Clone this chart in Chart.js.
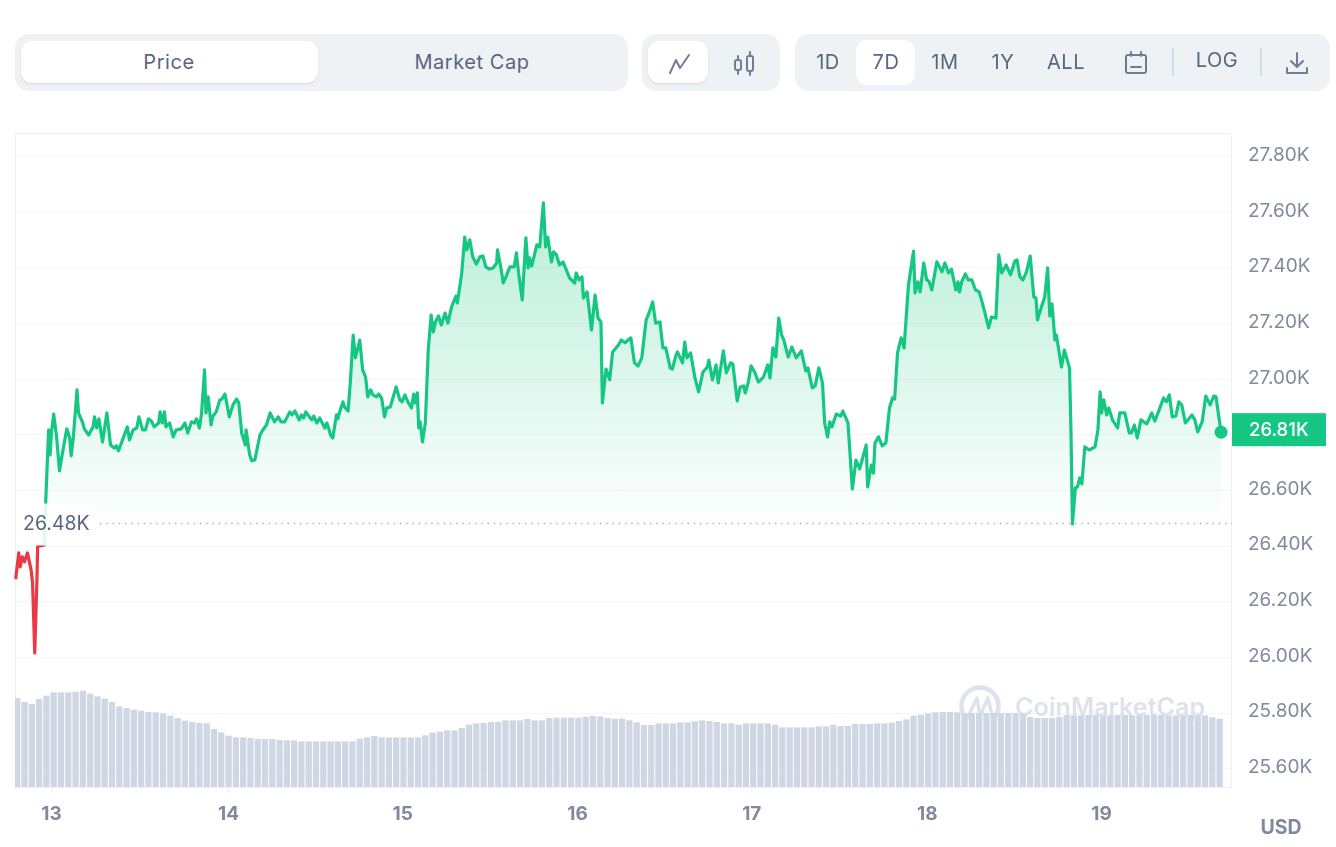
<!DOCTYPE html>
<html>
<head>
<meta charset="utf-8">
<title>Price chart</title>
<script src="https://cdn.jsdelivr.net/npm/chart.js@4"></script>
<style>
  html, body { margin: 0; padding: 0; background: #fff; }
  body { width: 1336px; height: 847px; position: relative; overflow: hidden; font-family: Inter, sans-serif; color: #58667e; }
  #myChart { position: absolute; left: 0; top: 0; }
  .box { position: absolute; top: 34px; height: 57px; background: #eff2f5; border-radius: 14px; }
  .on { position: absolute; background: #fff; border-radius: 11px; box-shadow: 0 1px 2px rgba(88, 102, 126, .18); }
  .txt { position: absolute; transform: translate(-50%, -50%); font-size: 20px; white-space: nowrap; letter-spacing: .55px; }
  .sep { position: absolute; top: 48px; width: 2px; height: 28px; background: #d5dbe6; }
  svg { position: absolute; fill: none; stroke: #6f7d96; stroke-width: 2; stroke-linecap: round; stroke-linejoin: round; }
</style>
</head>
<body>
<canvas id="myChart" width="1336" height="847"></canvas>

<div class="box" style="left:15px;width:613px"></div>
<div class="on" style="left:21px;top:41px;width:297px;height:42px"></div>
<div class="txt" style="left:169px;top:62px">Price</div>
<div class="txt" style="left:472px;top:62px">Market Cap</div>

<div class="box" style="left:642px;width:138px"></div>
<div class="on" style="left:648px;top:41px;width:60px;height:42px"></div>
<svg style="left:665px;top:50px" width="30" height="28" viewBox="0 0 30 28"><path d="M5 23 L11 10 L15 18 L24 5"/></svg>
<svg style="left:730px;top:49px" width="30" height="30" viewBox="0 0 30 30"><rect x="5" y="11" width="6" height="10" rx="2"/><rect x="17" y="7" width="6" height="15" rx="2"/><path d="M8 7 V11 M8 21 V25 M20 3 V7 M20 22 V26"/></svg>

<div class="box" style="left:795px;width:535px"></div>
<div class="on" style="left:856px;top:40px;width:59px;height:45px;box-shadow:none"></div>
<div class="txt" style="left:828px;top:62px">1D</div>
<div class="txt" style="left:886px;top:62px">7D</div>
<div class="txt" style="left:945px;top:62px">1M</div>
<div class="txt" style="left:1003px;top:62px">1Y</div>
<div class="txt" style="left:1066px;top:62px">ALL</div>
<svg style="left:1122px;top:49px" width="28" height="28" viewBox="0 0 28 28"><rect x="4" y="6" width="20" height="18" rx="2"/><path d="M9 3 V7 M19 3 V7 M9 18 H19"/></svg>
<div class="sep" style="left:1172px"></div>
<div class="txt" style="left:1217px;top:60px">LOG</div>
<div class="sep" style="left:1260px"></div>
<svg style="left:1283px;top:49px" width="28" height="28" viewBox="0 0 28 28"><path d="M14 4 V18 M8 12 L14 18 L20 12 M4 19 V24 H24 V19"/></svg>

<script>
// hours since the start of the 13th
const priceHours = [
  -4.9,-4.5,-4.3,-4.0,-3.7,-3.3,-2.8,-2.6,-2.3,-2.0,-1.9,-1.6,-1.0,
  -0.8,-0.4,-0.2,0,0.3,0.7,1.1,1.5,2.1,2.5,2.7,3.0,3.5,3.7,4.3,4.5,5.1,5.7,5.9,6.2,6.5,7.0,7.6,8.1,8.6,8.9,9.2,9.9,
  10.4,10.7,11.2,11.7,12.0,12.5,12.9,13.3,13.7,14.1,14.7,14.9,15.2,15.5,15.7,16.2,16.7,17.1,17.8,18.3,18.7,19.2,19.6,19.9,
  20.3,20.6,21.0,21.2,21.5,21.9,22.1,22.6,23.1,23.4,23.8,24.4,24.9,25.4,25.7,26.1,26.6,26.7,27.2,27.5,27.9,28.6,29.0,29.5,
  30.0,30.6,31.1,31.5,32.0,32.7,33.0,33.4,34.0,34.3,34.6,34.9,35.7,36.0,36.4,36.8,37.5,37.8,38.3,38.6,39.1,39.3,39.5,
  40.0,40.2,40.7,41.0,41.4,41.7,42.3,42.7,43.1,43.4,43.8,44.1,44.6,44.9,45.3,45.7,46.0,46.5,47.3,47.8,48.1,48.5,48.9,49.4,49.7,49.9,
  50.2,50.4,50.6,50.9,51.3,51.7,52.1,52.4,52.7,53.1,53.5,54.0,54.4,54.9,55.5,55.7,56.3,56.7,57.0,57.4,57.8,58.3,58.8,59.2,59.6,
  60.1,60.6,61.1,61.2,61.6,62.0,62.4,62.9,63.5,63.8,64.1,64.6,65.1,65.4,65.6,65.9,66.6,67.0,67.5,67.8,68.1,68.6,68.9,69.3,69.7,
  70.2,71.1,71.8,72.0,72.4,72.8,73.0,73.5,74.1,74.6,75.0,75.4,75.6,76.1,76.6,77.0,77.8,78.2,78.7,79.5,
  80.0,80.5,81.0,81.6,82.1,82.5,82.9,83.5,83.9,84.3,84.9,85.2,85.7,85.9,86.6,86.9,87.2,87.7,88.3,88.8,89.4,
  90.0,90.2,90.7,91.2,91.5,92.2,92.6,93.2,93.5,94.1,94.5,95.0,95.2,95.6,96.0,96.5,97.0,97.7,98.3,98.6,99.0,99.4,99.8,
  100.2,100.5,101.1,101.6,102.2,102.9,103.5,103.8,104.4,104.8,105.3,105.8,106.1,106.5,106.8,107.1,107.7,108.3,108.6,109.3,109.9,
  110.4,110.9,111.8,112.0,112.5,112.8,113.0,113.5,114.0,114.5,115.0,115.4,115.7,116.1,116.6,117.0,117.6,118.3,118.5,118.9,119.2,119.7,
  120.1,120.4,120.8,121.5,122.2,122.6,123.1,123.5,124.1,124.4,124.6,124.9,125.4,125.8,126.3,126.8,127.3,127.7,128.1,128.6,129.0,129.6,
  130.0,130.4,131.0,131.6,132.2,132.5,132.9,133.3,133.8,134.3,134.8,135.1,135.3,135.8,136.3,136.7,137.0,137.3,137.7,137.9,138.6,139.0,139.7,139.9,
  140.1,140.5,140.8,141.1,141.4,141.8,142.4,143.2,143.6,143.9,144.1,144.4,144.8,145.1,145.6,146.3,146.6,147.3,147.9,148.2,148.6,149.0,149.5,
  150.3,151.0,151.4,151.9,152.6,153.0,153.4,153.8,154.3,154.7,155.1,155.6,156.5,156.9,157.3,157.9,158.4,159.0,159.5,159.8,160.5
]

const priceValues = [
  26286,26376,26326,26362,26344,26376,26315,26268,26017,26279,26401,26401,26405,
  26556,26818,26728,26811,26875,26793,26671,26735,26822,26789,26725,26793,26962,26879,26843,26822,26800,26829,26865,26825,26858,26775,26879,26764,26753,26761,26743,26793,
  26829,26782,26818,26825,26865,26818,26818,26858,26850,26829,26843,26883,26843,26883,26829,26843,26793,26818,26822,26843,26807,26847,26843,26858,
  26825,26879,27034,26879,26937,26836,26865,26883,26926,26929,26947,26865,26908,26929,26915,26807,26764,26818,26728,26707,26710,26800,26818,26836,
  26879,26847,26865,26847,26847,26883,26872,26886,26854,26872,26861,26883,26854,26868,26843,26861,26825,26843,26800,26789,26872,26858,26879,
  26919,26901,26886,26987,27159,27077,27141,27034,27008,26937,26962,26944,26937,26947,26933,26865,26897,26901,26973,26926,26919,26944,26919,26897,26947,26915,
  26951,26825,26847,26775,26843,27105,27231,27170,27206,27228,27195,27238,27202,27260,27299,27274,27382,27511,27465,27501,27440,27414,27440,27443,27404,
  27396,27400,27418,27465,27411,27346,27371,27404,27404,27454,27382,27285,27508,27400,27436,27407,27483,27476,27634,27476,27511,27422,27458,27447,27411,
  27422,27364,27346,27382,27357,27368,27292,27314,27177,27303,27220,27206,26915,27037,26998,27098,27123,27141,27131,27149,
  27059,27048,27077,27213,27246,27278,27202,27206,27113,27113,27041,27037,27087,27098,27059,27134,27077,27095,27005,26955,27026,
  27044,27069,26998,27052,26987,27102,27023,27059,27055,26922,26972,26976,26951,26987,27048,27026,26990,27008,27052,27005,27113,27080,27220,
  27159,27141,27080,27116,27077,27102,27030,27041,26969,26976,27041,26987,26843,26793,26847,26829,26875,26868,26886,26843,26606,
  26710,26678,26764,26613,26692,26663,26771,26793,26761,26771,26897,26933,26929,27095,27149,27113,27339,27461,27310,27350,27314,27418,
  27357,27353,27321,27422,27386,27418,27382,27396,27321,27350,27314,27350,27379,27357,27357,27321,27314,27278,27238,27185,27224,27220,
  27447,27382,27411,27375,27425,27429,27368,27357,27386,27443,27296,27292,27213,27256,27296,27400,27228,27271,27141,27159,27044,27105,27041,26818,
  26480,26610,26613,26646,26624,26757,26746,26757,26818,26955,26879,26926,26872,26897,26854,26825,26879,26879,26807,26807,26836,26789,26854,
  26840,26879,26850,26883,26933,26919,26944,26865,26868,26919,26908,26843,26872,26854,26811,26847,26940,26908,26940,26937,26810
]

// hourly volume, billions
const volumeValues = [
  8.87,8.47,8.27,8.77,9.10,9.43,9.43,9.43,9.50,9.60,9.30,9.03,8.80,8.47,8.03,7.87,7.70,7.60,7.47,7.43,
  7.33,7.10,6.87,6.60,6.47,6.37,6.33,5.77,5.43,5.10,4.93,4.93,4.87,4.77,4.77,4.77,4.67,4.63,4.63,4.53,
  4.53,4.53,4.53,4.53,4.53,4.53,4.53,4.80,4.93,5.07,4.93,4.93,4.93,4.93,4.93,4.93,5.13,5.40,5.50,5.63,
  5.63,5.87,6.20,6.33,6.37,6.47,6.47,6.63,6.63,6.63,6.77,6.63,6.63,6.87,6.90,6.90,6.90,6.90,6.97,7.07,
  7.03,6.87,6.80,6.80,6.63,6.43,6.17,6.17,6.33,6.33,6.33,6.43,6.43,6.53,6.63,6.57,6.47,6.33,6.33,6.20,
  6.33,6.33,6.33,6.33,6.20,5.93,5.93,5.93,5.93,5.93,6.03,6.03,6.20,6.07,6.07,6.27,6.27,6.27,6.33,6.33,
  6.40,6.57,6.73,7.10,7.20,7.33,7.43,7.47,7.47,7.43,7.37,7.37,7.37,7.37,7.37,7.37,7.37,7.37,7.30,6.97,
  6.87,6.87,6.87,6.97,7.17,7.13,7.13,7.17,7.17,7.13,7.13,7.17,7.17,7.13,7.13,7.17,7.17,7.17,7.13,7.13,
  7.13,7.17,7.13,7.13,6.93,6.80
]

const xTickHours = [0, 24.3, 48.2, 72.2, 96.1, 120.2, 144.1]
const xTickLabels = ['13', '14', '15', '16', '17', '18', '19']
const yTickValues = [25600, 25800, 26000, 26200, 26400, 26600, 26800, 27000, 27200, 27400, 27600, 27800]

const basePrice = 26480
const lastPrice = priceValues[priceValues.length - 1]

const verde = '#16c784'
const vermelho = '#ea3943'
const cinza = '#808a9d'

function formatK(v) {
  return (v / 1000).toFixed(2) + 'K'
}

// area under the line fades out towards the opening price
function fillGradient(ctx) {
  const chart = ctx.chart
  if (!chart.chartArea) return 'transparent'
  const y = chart.scales.y
  const g = chart.ctx.createLinearGradient(0, y.getPixelForValue(27634), 0, y.getPixelForValue(basePrice))
  g.addColorStop(0, 'rgba(22, 199, 132, 0.30)')
  g.addColorStop(1, 'rgba(22, 199, 132, 0.01)')
  return g
}

const moldura = {
  id: 'moldura',
  beforeDatasetsDraw(chart) {
    const c = chart.ctx
    const a = chart.chartArea
    c.save()
    c.strokeStyle = '#eff2f5'
    c.lineWidth = 1
    c.strokeRect(a.left + 0.5, a.top + 0.5, a.width - 1, a.height)

    // watermark sits behind the bars
    c.strokeStyle = '#dde2ec'
    c.fillStyle = '#dde2ec'
    c.lineWidth = 4.5
    c.lineCap = 'round'
    c.lineJoin = 'round'
    c.beginPath()
    c.arc(980, 706, 18.5, Math.PI * 0.8, Math.PI * 0.2)
    c.stroke()
    c.lineWidth = 3.5
    c.beginPath()
    c.moveTo(967, 719)
    c.lineTo(977, 698)
    c.lineTo(980, 716)
    c.lineTo(988, 698)
    c.lineTo(993, 720)
    c.stroke()
    c.font = '600 25.2px Inter'
    c.textAlign = 'left'
    c.textBaseline = 'middle'
    c.fillText('CoinMarketCap', 1015, 708)
    c.restore()
  },
  afterDatasetsDraw(chart) {
    const c = chart.ctx
    const a = chart.chartArea
    const y = chart.scales.y
    const by = y.getPixelForValue(basePrice) - 0.5
    c.save()

    // opening price line and its label
    c.strokeStyle = '#a9b2c4'
    c.lineWidth = 1.4
    c.setLineDash([1.4, 4.85])
    c.beginPath()
    c.moveTo(100, by)
    c.lineTo(a.right, by)
    c.stroke()
    c.setLineDash([])
    c.fillStyle = 'rgba(255, 255, 255, 0.88)'
    c.beginPath()
    c.roundRect(a.left + 1, by - 20, 80, 42, 6)
    c.fill()
    c.fillStyle = '#58667e'
    c.font = '19.5px Inter'
    c.textAlign = 'left'
    c.textBaseline = 'middle'
    c.fillText(formatK(basePrice), 23, by + 1)

    // last price tag on the axis
    const ty = y.getPixelForValue(lastPrice) - 2.5
    c.fillStyle = verde
    c.fillRect(a.right, ty - 16.5, 94, 33)
    c.fillStyle = '#fff'
    c.font = '500 18.5px Inter'
    c.fillText(formatK(lastPrice), 1249, ty + 0.5)

    c.fillStyle = cinza
    c.font = '700 19.5px Inter'
    c.textAlign = 'center'
    c.fillText('USD', 1281, 828)
    c.restore()
  }
}

new Chart(document.getElementById('myChart'), {
  data: {
    datasets: [
      {
        type: 'line',
        label: 'Price',
        order: 1,
        yAxisID: 'y',
        data: priceHours.map((h, i) => ({ x: h, y: priceValues[i] })),
        borderColor: verde,
        borderWidth: 3.2,
        borderJoinStyle: 'round',
        borderCapStyle: 'round',
        tension: 0,
        clip: false,
        backgroundColor: fillGradient,
        fill: { target: { value: basePrice }, below: 'transparent' },
        segment: {
          borderColor: ctx => (ctx.p0.parsed.y < basePrice && ctx.p1.parsed.y < basePrice ? vermelho : verde)
        },
        pointRadius: ctx => (ctx.dataIndex === priceValues.length - 1 ? 6.5 : 0),
        pointBorderWidth: 0,
        pointBackgroundColor: verde
      },
      {
        type: 'bar',
        label: 'Volume',
        order: 2,
        yAxisID: 'vol',
        data: volumeValues.map((v, i) => ({ x: -4.7 + i, y: v })),
        backgroundColor: '#cfd6e4',
        barThickness: 5.6,
        borderWidth: 0
      }
    ]
  },
  options: {
    responsive: false,
    animation: false,
    events: [],
    layout: { padding: { left: 15, top: 133, right: 0, bottom: 0 } },
    plugins: { legend: { display: false }, tooltip: { enabled: false } },
    scales: {
      x: {
        type: 'linear',
        offset: false,
        min: -5.01,
        max: 162,
        afterFit: s => { s.height = 60 },
        afterBuildTicks: s => { s.ticks = xTickHours.map(h => ({ value: h })) },
        border: { display: false },
        grid: { offset: false, drawOnChartArea: false, drawTicks: true, tickLength: 6, color: '#eff2f5' },
        ticks: {
          autoSkip: false,
          maxRotation: 0,
          padding: 10,
          color: cinza,
          font: { family: 'Inter', size: 19, weight: '700' },
          callback: v => xTickLabels[xTickHours.indexOf(v)]
        }
      },
      y: {
        position: 'right',
        min: 25535,
        max: 27885,
        afterFit: s => { s.width = 104 },
        afterBuildTicks: s => { s.ticks = yTickValues.map(v => ({ value: v })) },
        border: { display: false },
        grid: { color: '#f4f5f8', drawTicks: false },
        ticks: {
          autoSkip: false,
          padding: 16,
          labelOffset: -1.5,
          color: cinza,
          font: { family: 'Inter', size: 19 },
          callback: v => formatK(v)
        }
      },
      vol: {
        display: false,
        min: 0,
        max: 65.4
      }
    }
  },
  plugins: [moldura]
})
</script>
</body>
</html>
